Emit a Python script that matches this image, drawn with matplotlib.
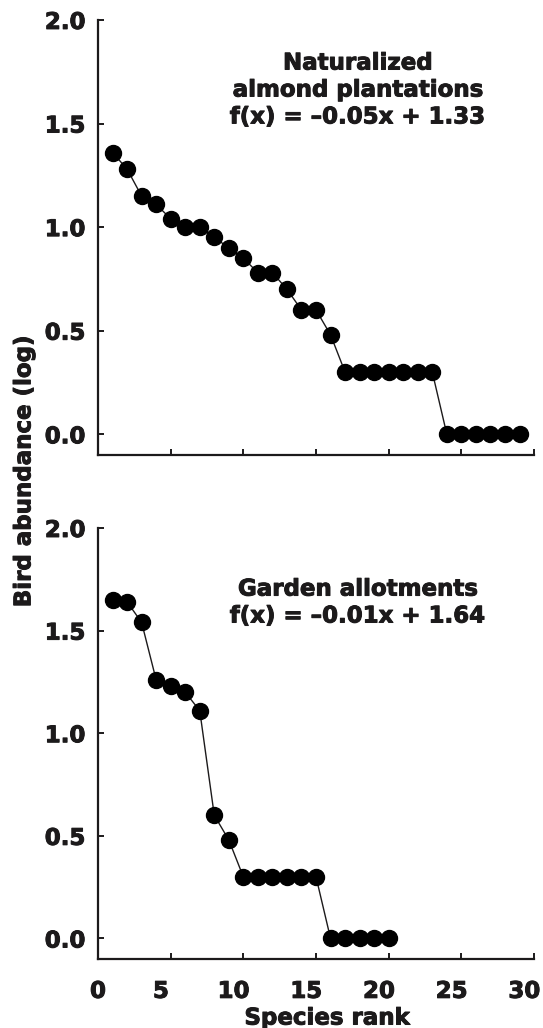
import matplotlib
matplotlib.use("Agg")
import matplotlib.pyplot as plt
import matplotlib.transforms as mtransforms
import matplotlib.patheffects as pe

plt.rcParams['font.family'] = ['DejaVu Sans']
plt.rcParams['font.weight'] = 'bold'

# species rank / log bird abundance
rank_almond = list(range(1, 30))
abund_almond = [1.36, 1.28, 1.15, 1.11, 1.04, 1.00, 1.00, 0.95, 0.90, 0.85,
                0.78, 0.78, 0.70, 0.60, 0.60, 0.48, 0.30, 0.30, 0.30, 0.30,
                0.30, 0.30, 0.30, 0.00, 0.00, 0.00, 0.00, 0.00, 0.00]

rank_garden = list(range(1, 21))
abund_garden = [1.65, 1.64, 1.54, 1.26, 1.23, 1.20, 1.11, 0.60, 0.48, 0.30,
                0.30, 0.30, 0.30, 0.30, 0.30, 0.00, 0.00, 0.00, 0.00, 0.00]

x_ticks = [0, 5, 10, 15, 20, 25, 30]
y_ticks = [0.0, 0.5, 1.0, 1.5, 2.0]

labels_almond = "Naturalized\nalmond plantations\nf(x) = \u20130.05x + 1.33"
labels_garden = "Garden allotments\nf(x) = \u20130.01x + 1.64"

ink = '#1c1a1b'
fs = 16.5
# the original lettering is heavier than DejaVu bold, thicken it a bit
heavy = [pe.withStroke(linewidth=0.7, foreground=ink)]


def style_axes(ax, show_xlabels):
    ax.set_xlim(0, 30)
    ax.set_ylim(-0.1, 2.0)
    ax.set_xticks(x_ticks)
    ax.set_yticks(y_ticks)
    ax.set_yticklabels(["%.1f" % v for v in y_ticks])
    for s in ['top', 'right']:
        ax.spines[s].set_visible(False)
    for s in ['left', 'bottom']:
        ax.spines[s].set_linewidth(1.6)
        ax.spines[s].set_color(ink)
    ax.tick_params(direction='in', length=4, width=1.4, color=ink,
                   labelsize=fs, labelcolor=ink)
    ax.tick_params(axis='y', pad=9)
    ax.tick_params(axis='x', pad=15)
    if not show_xlabels:
        ax.tick_params(axis='x', labelbottom=False)
    for lab in ax.get_xticklabels() + ax.get_yticklabels():
        lab.set_path_effects(heavy)


def draw(ax, x, y, label, ty):
    ax.plot(x, y, '-', color=ink, linewidth=1.0, zorder=2)
    ax.plot(x, y, 'o', color='black', markersize=11.5, zorder=3)
    ax.text(0.595, ty, label, transform=ax.transAxes, ha='center', va='center',
            fontsize=fs, fontweight='bold', color=ink, linespacing=1.22,
            path_effects=heavy)


fig = plt.figure(figsize=(5.43, 10.28), dpi=100)
ax1 = fig.add_axes([0.1805, 0.5574, 0.803, 0.4232])
ax2 = fig.add_axes([0.1805, 0.0671, 0.803, 0.4193])

draw(ax1, rank_almond, abund_almond, labels_almond, 0.839)
draw(ax2, rank_garden, abund_garden, labels_garden, 0.827)
style_axes(ax1, False)
style_axes(ax2, True)

# the printed labels sit a little left of their ticks (except 0)
shift = mtransforms.ScaledTranslation(-7 / 72, 0, fig.dpi_scale_trans)
for lab in ax2.get_xticklabels()[1:]:
    lab.set_transform(lab.get_transform() + shift)

fig.text(0.602, 0.0097, "Species rank", ha='center', va='center',
         fontsize=fs, fontweight='bold', color=ink, path_effects=heavy)
fig.text(0.044, 0.541, "Bird abundance (log)", ha='center', va='center',
         rotation=90, fontsize=fs, fontweight='bold', color=ink,
         path_effects=heavy)

fig.savefig('out.png', dpi=100)
